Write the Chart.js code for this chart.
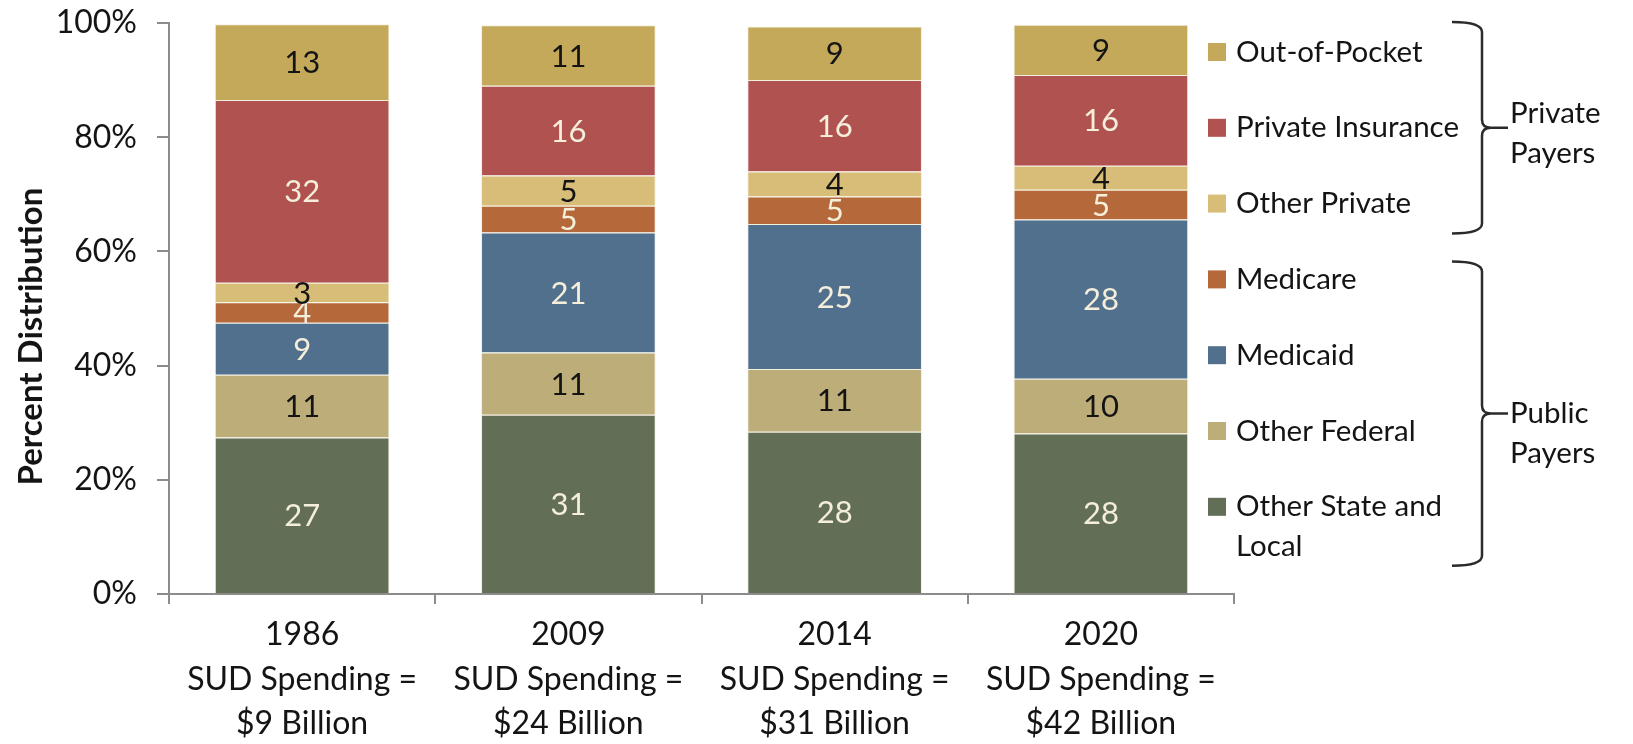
<!DOCTYPE html>
<html>
<head>
<meta charset="utf-8">
<title>SUD Spending by Payer</title>
<script src="https://cdn.jsdelivr.net/npm/chart.js@4.4.1/dist/chart.umd.min.js"></script>
<style>
  html, body { margin: 0; padding: 0; background: #fff; }
  canvas { display: block; }
</style>
</head>
<body>
<canvas id="grafico" width="1633" height="744"></canvas>
<script>
// Años y gasto total (etiquetas del eje X)
const years = ['1986', '2009', '2014', '2020'];
const spending = ['$9 Billion', '$24 Billion', '$31 Billion', '$42 Billion'];

// Distribución porcentual por pagador, de abajo hacia arriba
const otherStateLocal = [27.4, 31.4, 28.4, 28.1];
const otherFederal = [11.0, 10.9, 11.0, 9.6];
const medicaid = [9.1, 21.0, 25.4, 27.9];
const medicare = [3.6, 4.7, 4.8, 5.2];
const otherPrivate = [3.4, 5.3, 4.4, 4.2];
const privateInsurance = [32.0, 15.7, 16.0, 15.9];
const outOfPocket = [13.3, 10.6, 9.4, 8.8];

const seriesNames = ['Other State and Local', 'Other Federal', 'Medicaid', 'Medicare',
  'Other Private', 'Private Insurance', 'Out-of-Pocket'];
const seriesValues = [otherStateLocal, otherFederal, medicaid, medicare,
  otherPrivate, privateInsurance, outOfPocket];
const seriesColors = ['#626e55', '#bcad79', '#50708d', '#b5693b', '#d7bd78', '#b05350', '#c5a95b'];
const labelColors = ['#f4eedb', '#141414', '#f4eedb', '#f4eedb', '#141414', '#f4eedb', '#141414'];

// Ticks del eje Y
const yTicks = [0, 20, 40, 60, 80, 100];

// Grupos de pagadores (llaves a la derecha de la leyenda)
const privatePayers = ['Out-of-Pocket', 'Private Insurance', 'Other Private'];
const publicPayers = ['Medicare', 'Medicaid', 'Other Federal', 'Other State and Local'];
const groupTitles = [['Private', 'Payers'], ['Public', 'Payers']];

const FONT = 'Lato';
const AXIS_GRAY = '#8c8c8c';
const TEXT = '#141414';

Chart.defaults.font.family = FONT;
Chart.defaults.color = TEXT;

// Partir texto en líneas según ancho
function partirTexto(ctx, texto, maxAncho) {
  const palabras = texto.split(' ');
  const lineas = [];
  let actual = '';
  palabras.forEach(p => {
    const prueba = actual ? actual + ' ' + p : p;
    if (ctx.measureText(prueba).width > maxAncho && actual) {
      lineas.push(actual);
      actual = p;
    } else {
      actual = prueba;
    }
  });
  lineas.push(actual);
  return lineas;
}

// Etiquetas de valor dentro de cada segmento
const etiquetasPlugin = {
  id: 'etiquetas',
  afterDatasetsDraw(chart) {
    const ctx = chart.ctx;
    ctx.save();
    ctx.font = '31px ' + FONT;
    ctx.textAlign = 'center';
    ctx.textBaseline = 'middle';
    chart.data.datasets.forEach((ds, i) => {
      chart.getDatasetMeta(i).data.forEach((bar, j) => {
        ctx.fillStyle = labelColors[i];
        ctx.fillText(Math.round(ds.data[j]), bar.x, (bar.y + bar.base) / 2 + 1);
      });
    });
    ctx.restore();
  }
};

// Leyenda, llaves y título del eje Y
const leyendaPlugin = {
  id: 'leyenda',
  afterDraw(chart) {
    const ctx = chart.ctx;
    const area = chart.chartArea;
    const top = area.top + 29;
    const step = 75.8;
    const lineStep = 40;
    ctx.save();

    // título eje Y
    ctx.font = 'bold 33px ' + FONT;
    ctx.fillStyle = TEXT;
    ctx.textAlign = 'center';
    ctx.textBaseline = 'middle';
    ctx.translate(31, (area.top + area.bottom) / 2 + 28);
    ctx.rotate(-Math.PI / 2);
    ctx.fillText('Percent Distribution', 0, 0);
    ctx.setTransform(1, 0, 0, 1, 0, 0);

    // items
    ctx.font = '29.5px ' + FONT;
    ctx.textAlign = 'left';
    const posiciones = {};
    const items = chart.data.datasets.slice().reverse();
    items.forEach((ds, i) => {
      const y = top + i * step;
      ctx.fillStyle = ds.backgroundColor;
      ctx.fillRect(area.right - 26, y - 9, 18, 18);
      ctx.fillStyle = TEXT;
      const lineas = partirTexto(ctx, ds.label, 250);
      lineas.forEach((l, k) => ctx.fillText(l, area.right + 2, y + k * lineStep));
      posiciones[ds.label] = { first: y, last: y + (lineas.length - 1) * lineStep };
    });

    // llaves
    const margenLlave = [[30, 30], [18, 19]];
    const desfaseTitulo = [-14, 0];
    [privatePayers, publicPayers].forEach((grupo, g) => {
      const y0 = posiciones[grupo[0]].first - margenLlave[g][0];
      const y1 = posiciones[grupo[grupo.length - 1]].last + margenLlave[g][1];
      const mid = (y0 + y1) / 2;
      const xa = area.right + 218;
      const xb = area.right + 248;
      const xt = area.right + 274;
      ctx.strokeStyle = '#2b2b2b';
      ctx.lineWidth = 2.5;
      ctx.beginPath();
      ctx.moveTo(xa, y0);
      ctx.quadraticCurveTo(xb, y0, xb, y0 + 10);
      ctx.lineTo(xb, mid - 8);
      ctx.quadraticCurveTo(xb, mid, xb + 9, mid);
      ctx.lineTo(xt, mid);
      ctx.moveTo(xb + 9, mid);
      ctx.quadraticCurveTo(xb, mid, xb, mid + 8);
      ctx.lineTo(xb, y1 - 10);
      ctx.quadraticCurveTo(xb, y1, xa, y1);
      ctx.stroke();

      ctx.fillStyle = TEXT;
      groupTitles[g].forEach((t, k) => ctx.fillText(t, area.right + 276, mid + desfaseTitulo[g] + k * 40));
    });
    ctx.restore();
  }
};

new Chart(document.getElementById('grafico'), {
  type: 'bar',
  data: {
    labels: years.map((y, i) => [y, 'SUD Spending =', spending[i]]),
    datasets: seriesNames.map((name, i) => ({
      label: name,
      data: seriesValues[i],
      backgroundColor: seriesColors[i],
      borderColor: '#f4efdb',
      borderWidth: 1,
      categoryPercentage: 1,
      barPercentage: 0.656
    }))
  },
  options: {
    responsive: false,
    animation: false,
    layout: { padding: { top: 23, right: 399, bottom: 0, left: 0 } },
    plugins: {
      legend: { display: false },
      tooltip: { enabled: false }
    },
    scales: {
      x: {
        stacked: true,
        grid: { drawOnChartArea: false, tickLength: 10, color: AXIS_GRAY, lineWidth: 2, offset: true },
        border: { color: AXIS_GRAY, width: 2 },
        ticks: { color: TEXT, font: { size: 32, lineHeight: 1.4 }, padding: 8, maxRotation: 0 },
        afterFit: s => { s.height = 150; }
      },
      y: {
        stacked: true,
        min: 0,
        max: 100,
        grid: { drawOnChartArea: false, tickLength: 12, color: AXIS_GRAY, lineWidth: 2 },
        border: { color: AXIS_GRAY, width: 2 },
        // lineHeight pequeño para que el padding automático no empuje el área hacia abajo
        ticks: { color: TEXT, font: { size: 32, lineHeight: 0.1 }, padding: 20, callback: v => v + '%' },
        afterBuildTicks: s => { s.ticks = yTicks.map(v => ({ value: v })); },
        afterFit: s => { s.width = 169; }
      }
    }
  },
  plugins: [etiquetasPlugin, leyendaPlugin]
});
</script>
</body>
</html>
